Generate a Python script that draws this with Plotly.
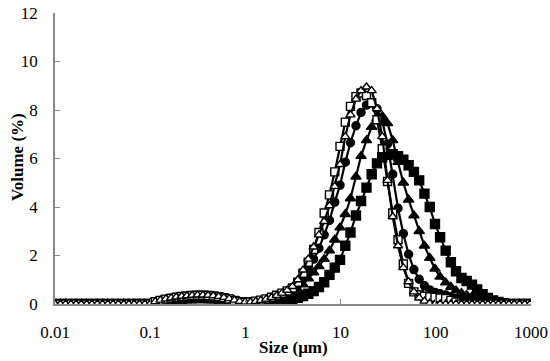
import plotly.graph_objects as go

sizes = [0.0100, 0.0114, 0.0129, 0.0147, 0.0167, 0.0189, 0.0215, 0.0244, 0.0278, 0.0315,
         0.0358, 0.0407, 0.0463, 0.0526, 0.0597, 0.0679, 0.0771, 0.0876, 0.0995,
         0.113, 0.128, 0.146, 0.166, 0.188, 0.214, 0.243, 0.276, 0.314, 0.357, 0.405, 0.460,
         0.523, 0.594, 0.675, 0.767, 0.872, 0.991,
         1.13, 1.28, 1.45, 1.65, 1.88, 2.13, 2.42, 2.75, 3.12, 3.55, 4.03, 4.58, 5.21, 5.92,
         6.72, 7.64, 8.68, 9.86,
         11.2, 12.7, 14.5, 16.4, 18.7, 21.2, 24.1, 27.4, 31.1, 35.3, 40.1, 45.6, 51.8, 58.9,
         66.9, 76.0, 86.4, 98.1,
         111, 127, 144, 163, 186, 211, 240, 272, 310, 352, 400, 454, 516, 586, 666, 756, 859, 976]

zeros19 = [0, 0, 0, 0, 0, 0, 0, 0, 0, 0, 0, 0, 0, 0, 0, 0, 0, 0, 0]

filled_square = zeros19 + [
    0.05, 0.09, 0.13, 0.16, 0.19, 0.21, 0.23, 0.24, 0.25, 0.25, 0.24, 0.23, 0.21, 0.18, 0.14, 0.10, 0.06, 0.04,
    0.04, 0.05, 0.06, 0.08, 0.10, 0.12, 0.15, 0.18, 0.21, 0.26, 0.33, 0.42, 0.53, 0.70, 0.90, 1.20, 1.50, 1.82,
    2.40, 2.95, 3.65, 4.25, 4.80, 5.35, 5.80, 6.05, 6.15, 6.18, 6.10, 5.95, 5.72, 5.45, 5.10, 4.55, 4.00, 3.30,
    2.75, 2.20, 1.72, 1.35, 1.07, 0.95, 0.80, 0.60, 0.40, 0.25, 0.15, 0.08, 0.03, 0.00, 0.00, 0.00, 0.00, 0.00]

filled_triangle = zeros19 + [
    0.07, 0.12, 0.16, 0.20, 0.23, 0.26, 0.28, 0.30, 0.31, 0.31, 0.30, 0.28, 0.25, 0.21, 0.17, 0.12, 0.08, 0.05,
    0.05, 0.07, 0.10, 0.13, 0.17, 0.22, 0.28, 0.36, 0.45, 0.60, 0.80, 1.05, 1.30, 1.55, 1.85, 2.20, 2.65, 3.15,
    3.70, 4.35, 5.25, 6.10, 6.75, 7.30, 7.65, 7.75, 7.45, 6.75, 5.85, 5.00, 4.30, 3.65, 3.00, 2.40, 1.90, 1.45,
    1.12, 0.88, 0.70, 0.55, 0.45, 0.37, 0.30, 0.24, 0.18, 0.12, 0.07, 0.03, 0.00, 0.00, 0.00, 0.00, 0.00, 0.00]

filled_circle = zeros19 + [
    0.08, 0.13, 0.18, 0.22, 0.26, 0.29, 0.31, 0.33, 0.34, 0.34, 0.33, 0.31, 0.28, 0.24, 0.19, 0.14, 0.09, 0.06,
    0.06, 0.09, 0.12, 0.16, 0.21, 0.28, 0.36, 0.46, 0.60, 0.85, 1.15, 1.45, 1.85, 2.30, 2.85, 3.45, 4.20, 4.90,
    5.85, 6.65, 7.35, 7.90, 8.20, 8.30, 8.05, 7.55, 6.60, 5.35, 3.95, 2.90, 2.05, 1.42, 1.02, 0.75, 0.58, 0.48,
    0.42, 0.37, 0.30, 0.22, 0.15, 0.08, 0.03, 0.00, 0.00, 0.00, 0.00, 0.00, 0.00, 0.00, 0.00, 0.00, 0.00, 0.00]

open_square = zeros19 + [
    0.09, 0.15, 0.20, 0.24, 0.28, 0.31, 0.33, 0.35, 0.36, 0.36, 0.35, 0.33, 0.30, 0.26, 0.21, 0.15, 0.10, 0.07,
    0.08, 0.12, 0.16, 0.21, 0.28, 0.36, 0.45, 0.54, 0.66, 0.90, 1.27, 1.72, 2.25, 2.95, 3.75, 4.50, 5.45, 6.50,
    7.50, 8.15, 8.55, 8.70, 8.60, 8.30, 7.60, 6.40, 5.05, 3.75, 2.65, 1.65, 0.85, 0.50, 0.38, 0.32, 0.30, 0.28,
    0.25, 0.22, 0.15, 0.08, 0.00, 0.00, 0.00, 0.00, 0.00, 0.00, 0.00, 0.00, 0.00, 0.00, 0.00, 0.00, 0.00, 0.00]

open_triangle = zeros19 + [
    0.10, 0.16, 0.21, 0.25, 0.29, 0.32, 0.34, 0.36, 0.37, 0.37, 0.36, 0.34, 0.31, 0.27, 0.22, 0.16, 0.11, 0.08,
    0.08, 0.11, 0.15, 0.20, 0.27, 0.35, 0.45, 0.57, 0.72, 1.00, 1.40, 1.85, 2.35, 2.85, 3.40, 4.05, 4.85, 5.75,
    6.90, 7.80, 8.45, 8.80, 8.95, 8.80, 8.05, 6.90, 5.10, 3.60, 2.40, 1.50, 0.92, 0.50, 0.25, 0.12, 0.03, 0.00,
    0.00, 0.00, 0.00, 0.00, 0.00, 0.00, 0.00, 0.00, 0.00, 0.00, 0.00, 0.00, 0.00, 0.00, 0.00, 0.00, 0.00, 0.00]

x_tickvals = [0.01, 0.1, 1, 10, 100, 1000]
x_ticktext = ["0.01", "0.1", "1", "10", "100", "1000"]
y_tickvals = [0, 2, 4, 6, 8, 10, 12]

series = [
    ("filled square", filled_square, "square", "black", 9),
    ("filled triangle", filled_triangle, "triangle-up", "black", 9),
    ("filled circle", filled_circle, "circle", "black", 8),
    ("open square", open_square, "square", "white", 8),
    ("open triangle", open_triangle, "triangle-up", "white", 8),
]

fig = go.Figure()
for name, ys, sym, fill, msize in series:
    fig.add_trace(go.Scatter(
        x=sizes, y=ys, name=name, mode="lines+markers",
        line=dict(color="black", width=2.2),
        marker=dict(symbol=sym, size=msize, color=fill,
                    line=dict(color="black", width=1.4)),
        showlegend=False,
    ))

font_family = "Liberation Serif, DejaVu Serif, serif"
fig.update_layout(
    width=550, height=361,
    margin=dict(l=55, r=19, t=13, b=57, autoexpand=False),
    paper_bgcolor="white", plot_bgcolor="white",
    font=dict(family=font_family, size=17, color="black"),
    annotations=[
        dict(text="<b>Size (μm)</b>", xref="paper", yref="paper",
             x=0.5, y=-0.148, xanchor="center", yanchor="middle",
             showarrow=False, font=dict(size=17)),
        dict(text="<b>Volume (%)</b>", xref="paper", yref="paper",
             x=-0.08, y=0.505, xanchor="center", yanchor="middle",
             textangle=-90, showarrow=False, font=dict(size=17)),
    ],
)
fig.update_xaxes(
    type="log", range=[-2, 3], automargin=False,
    tickvals=x_tickvals, ticktext=x_ticktext,
    ticks="inside", ticklen=5, tickcolor="#888888",
    showline=True, linecolor="#888888", linewidth=1.5,
    showgrid=False, zeroline=False,
    ticklabelstandoff=12,
)
fig.update_yaxes(
    range=[0, 12], tickvals=y_tickvals, automargin=False,
    ticks="inside", ticklen=5, tickcolor="#888888",
    showline=True, linecolor="#888888", linewidth=1.5,
    showgrid=False, zeroline=False,
    ticklabelstandoff=12,
)

fig.write_html(
    "out.html",
    config={"displayModeBar": False},
    post_script="document.body.style.margin='0px';document.body.style.overflow='hidden';",
)
